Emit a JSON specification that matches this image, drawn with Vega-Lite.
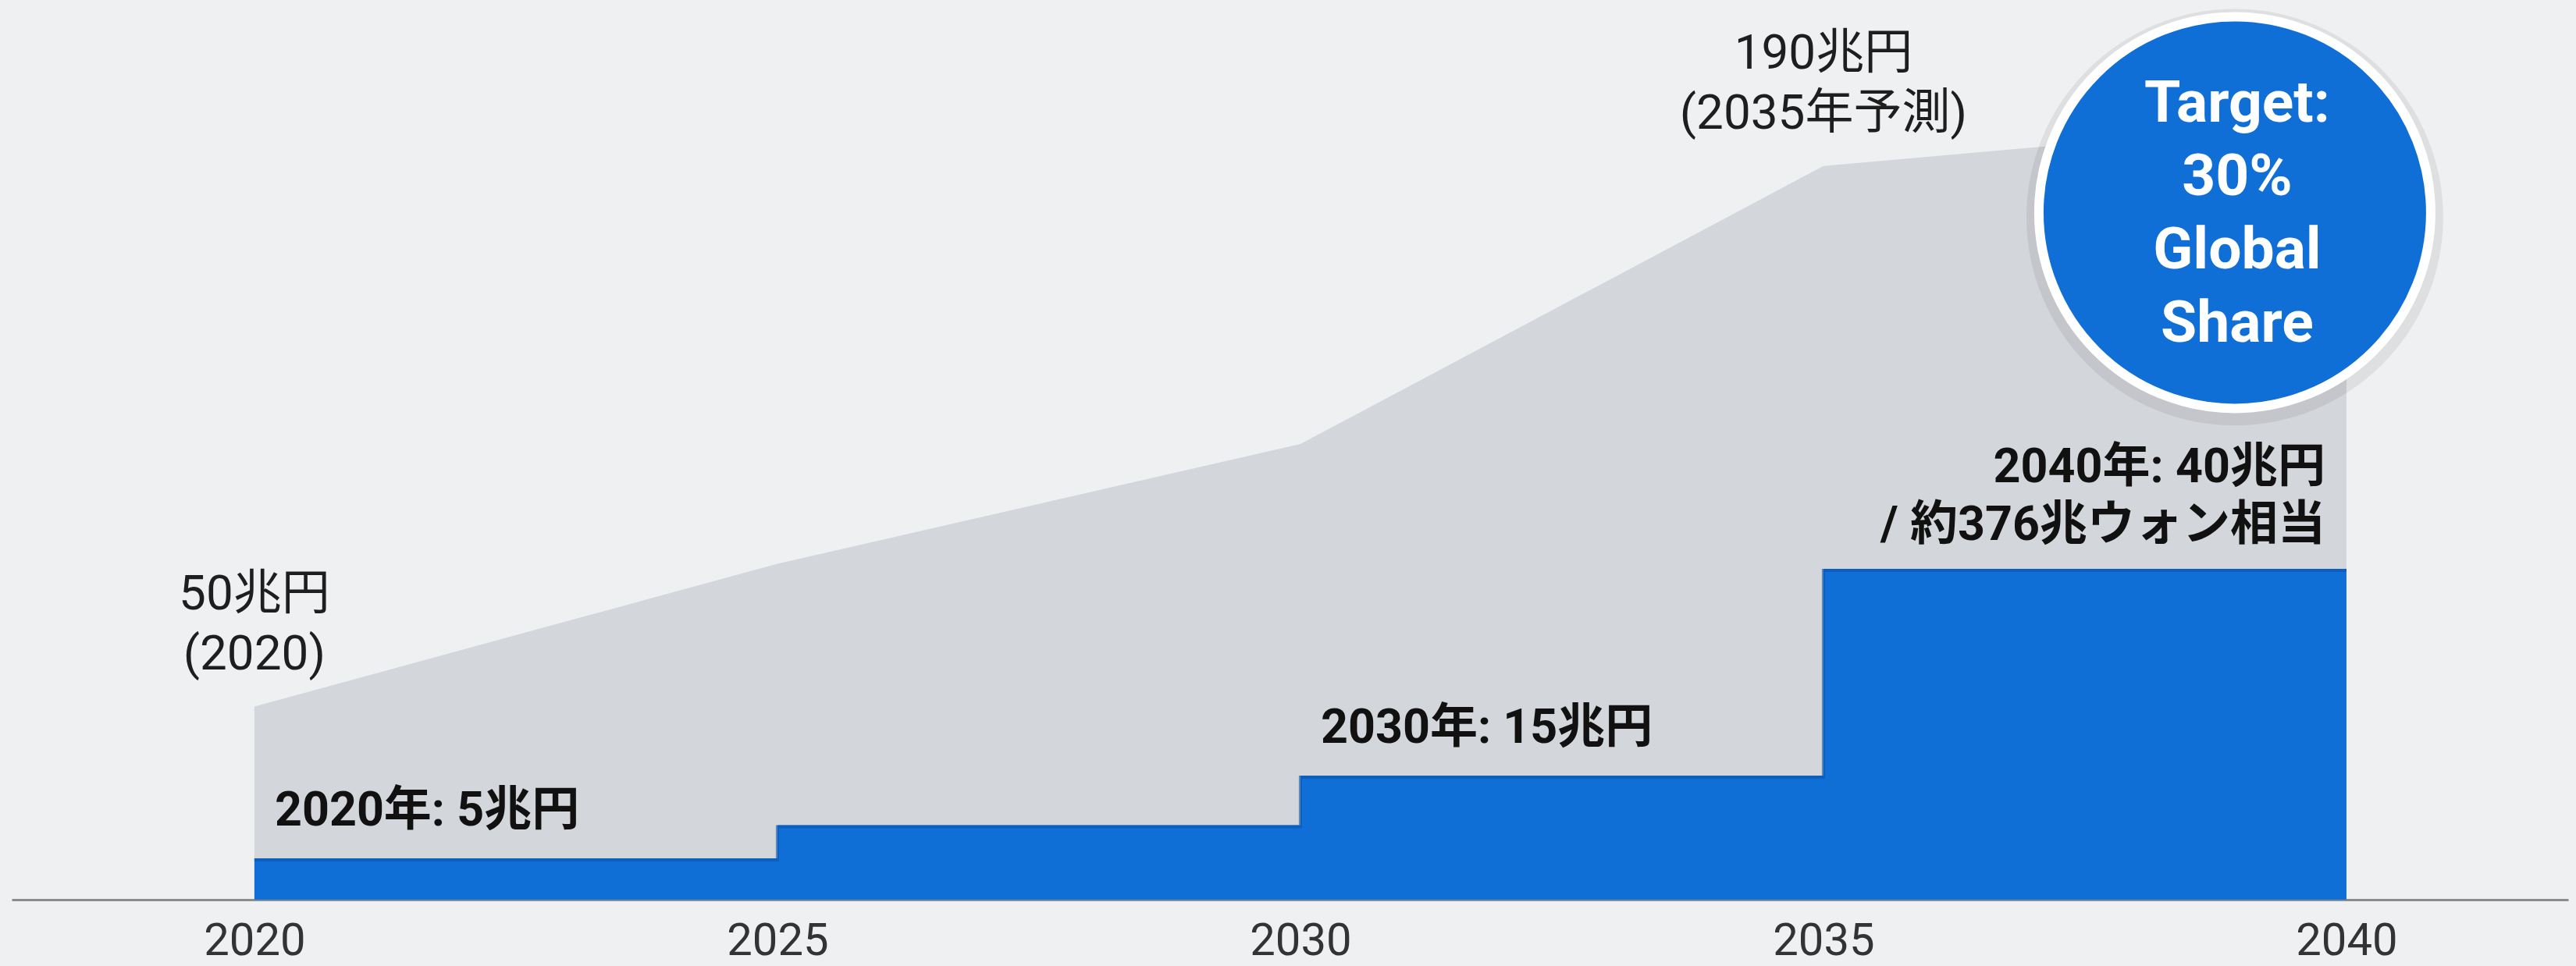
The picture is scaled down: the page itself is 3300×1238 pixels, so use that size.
{
  "$schema": "https://vega.github.io/schema/vega-lite/v6.json",
  "width": 3275,
  "height": 1153,
  "autosize": {"type": "none"},
  "padding": {"left": 15, "right": 10, "top": 0, "bottom": 85},
  "background": "#eef0f2",
  "config": {
    "view": {"stroke": null},
    "font": "Roboto, 'Noto Sans CJK JP', sans-serif"
  },
  "datasets": {
    "market": [
      {"year": 2020, "value": 50},
      {"year": 2025, "value": 87},
      {"year": 2030, "value": 118},
      {"year": 2035, "value": 190},
      {"year": 2040, "value": 202}
    ],
    "korea": [
      {"year": 2020, "value": 5},
      {"year": 2025, "value": 9},
      {"year": 2030, "value": 15},
      {"year": 2035, "value": 40},
      {"year": 2040, "value": 40}
    ],
    "marketNotes": [
      {"year": 2020, "value": 50, "label": "50兆円\n(2020)"},
      {"year": 2035, "value": 190, "label": "190兆円\n(2035年予測)"}
    ],
    "koreaNotes": [
      {"year": 2020, "value": 5, "label": "2020年: 5兆円"},
      {"year": 2030, "value": 15, "label": "2030年: 15兆円"}
    ],
    "koreaNote2040": [
      {"year": 2040, "value": 40, "label": "2040年: 40兆円\n/ 約376兆ウォン相当"}
    ],
    "target": [
      {"year": 2040, "value": 202, "label": "Target:\n30%\nGlobal\nShare"}
    ]
  },
  "encoding": {
    "x": {
      "field": "year",
      "type": "quantitative",
      "scale": {"domain": [2017.68, 2042.12], "nice": false, "zero": false},
      "axis": {
        "title": null,
        "values": [2020, 2025, 2030, 2035, 2040],
        "format": "d",
        "grid": false,
        "ticks": false,
        "labelFontSize": 58,
        "labelColor": "#333333",
        "labelPadding": 24,
        "labelFont": "Roboto",
        "domainColor": "#8c8c8c",
        "domainWidth": 3,
        "labelFlush": false,
        "labelOverlap": false
      }
    }
  },
  "layer": [
    {
      "data": {"name": "market"},
      "mark": {"type": "area", "color": "#d3d6db"},
      "encoding": {
        "y": {"field": "value", "type": "quantitative", "scale": {"domain": [0, 233], "nice": false}, "axis": null}
      }
    },
    {
      "data": {"name": "korea"},
      "mark": {"type": "area", "color": "#0f6fd7", "interpolate": "step-after"},
      "encoding": {
        "y": {"field": "value", "type": "quantitative", "scale": {"domain": [0, 108.8], "nice": false}, "axis": null}
      }
    },
    {
      "data": {"name": "korea"},
      "mark": {"type": "line", "color": "#0a55aa", "strokeWidth": 4, "opacity": 0.6, "interpolate": "step-after", "yOffset": 2},
      "encoding": {
        "y": {"field": "value", "type": "quantitative", "scale": {"domain": [0, 108.8], "nice": false}, "axis": null}
      }
    },
    {
      "data": {"name": "marketNotes"},
      "mark": {"type": "text", "align": "center", "baseline": "middle", "fontSize": 62, "lineHeight": 77, "color": "#1e1e1e", "dy": -144, "lineBreak": "\n"},
      "encoding": {
        "y": {"field": "value", "type": "quantitative", "scale": {"domain": [0, 233], "nice": false}, "axis": null},
        "text": {"field": "label"}
      }
    },
    {
      "data": {"name": "koreaNotes"},
      "mark": {"type": "text", "align": "left", "baseline": "middle", "fontSize": 61, "fontWeight": "bold", "color": "#111111", "dx": 26, "dy": -60},
      "encoding": {
        "y": {"field": "value", "type": "quantitative", "scale": {"domain": [0, 108.8], "nice": false}, "axis": null},
        "text": {"field": "label"}
      }
    },
    {
      "data": {"name": "koreaNote2040"},
      "mark": {"type": "text", "align": "right", "baseline": "middle", "fontSize": 61, "fontWeight": "bold", "lineHeight": 74, "color": "#111111", "dx": -27, "dy": -129, "lineBreak": "\n"},
      "encoding": {
        "y": {"field": "value", "type": "quantitative", "scale": {"domain": [0, 108.8], "nice": false}, "axis": null},
        "text": {"field": "label"}
      }
    },
    {
      "data": {"name": "target"},
      "mark": {"type": "point", "shape": "circle", "filled": true, "color": "#000000", "opacity": 0.07, "size": 285000, "xOffset": -143, "yOffset": 125},
      "encoding": {
        "y": {"field": "value", "type": "quantitative", "scale": {"domain": [0, 233], "nice": false}, "axis": null}
      }
    },
    {
      "data": {"name": "target"},
      "mark": {"type": "point", "shape": "circle", "filled": true, "fill": "#0f6fd7", "fillOpacity": 1, "stroke": "#ffffff", "strokeWidth": 12, "strokeOpacity": 1, "size": 252004, "xOffset": -143, "yOffset": 119},
      "encoding": {
        "y": {"field": "value", "type": "quantitative", "scale": {"domain": [0, 233], "nice": false}, "axis": null}
      }
    },
    {
      "data": {"name": "target"},
      "mark": {"type": "text", "align": "center", "baseline": "middle", "fontSize": 75, "fontWeight": "bold", "lineHeight": 94, "color": "#ffffff", "dx": -140, "dy": -20, "lineBreak": "\n"},
      "encoding": {
        "y": {"field": "value", "type": "quantitative", "scale": {"domain": [0, 233], "nice": false}, "axis": null},
        "text": {"field": "label"}
      }
    }
  ],
  "resolve": {"scale": {"y": "independent"}}
}
